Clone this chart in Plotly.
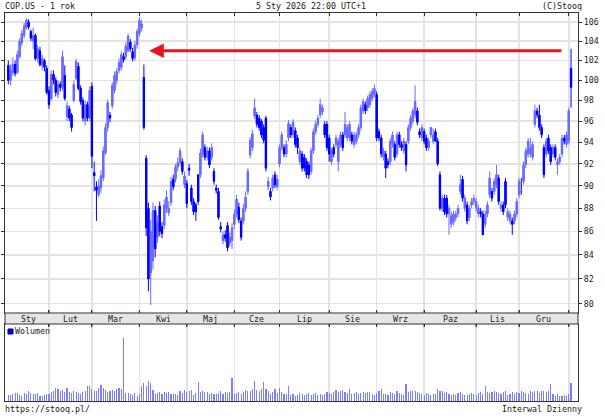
import math
import plotly.graph_objects as go

# ---------------- data (COP.US daily, 1 year) ----------------
month_labels = ["Sty", "Lut", "Mar", "Kwi", "Maj", "Cze", "Lip", "Sie", "Wrz", "Paz", "Lis", "Gru"]
month_starts = [0, 18, 37, 58, 79, 100, 120, 142, 163, 184, 207, 226, 248]

open_ = [
    101.5, 100.0, 100.8, 101.6, 100.8, 102.4, 103.8, 104.6, 105.4, 106.0,
    105.0, 104.0, 104.6, 102.2, 103.0, 101.5, 102.0, 101.2,
    99.0, 98.2, 100.6, 100.0, 98.6, 99.6, 99.3, 100.5, 96.4, 97.2,
    96.6, 98.0, 100.2, 101.4, 99.2, 98.0, 96.0, 97.6, 96.3,
    99.4, 91.2, 89.9, 89.2, 89.8, 90.7, 93.0, 95.4, 96.6, 97.5,
    99.0, 100.0, 101.0, 101.3, 102.4, 102.4, 103.0, 103.9, 102.9, 102.3, 103.6,
    104.8, 105.4, 100.3, 92.5, 88.0, 82.5, 83.5, 87.8, 85.5, 88.2,
    86.4, 86.5, 88.0, 87.6, 88.5, 90.6, 90.6, 91.7, 92.1, 92.2, 90.1,
    90.2, 91.6, 89.8, 88.6, 88.3, 91.0, 91.0, 92.9, 93.5, 92.6,
    93.2, 92.6, 91.3, 89.8, 89.5, 86.4, 85.2, 85.7, 86.5, 85.0, 85.2,
    86.6, 87.5, 88.1, 86.9, 86.9, 88.0, 89.5, 92.8, 93.5, 96.5,
    96.6, 96.3, 96.0, 95.4, 96.3, 89.9, 89.5, 89.8, 91.0, 89.9,
    92.0, 93.5, 93.5, 92.9, 94.4, 95.4, 94.7, 95.1, 94.4, 92.2,
    92.9, 92.6, 92.2, 91.9, 91.3, 93.2, 95.0, 95.7, 96.6, 96.9, 95.7, 95.7,
    94.4, 92.2, 93.5, 93.8, 92.2, 93.8, 94.7, 94.7, 94.4, 94.4,
    94.7, 93.8, 94.1, 94.7, 95.4, 97.0, 97.6, 97.3, 97.6, 98.2, 98.6,
    98.6, 95.0, 94.4, 92.6, 92.9, 92.2, 92.2, 93.8, 93.8, 92.9,
    94.7, 93.8, 93.2, 93.8, 94.1, 95.4, 96.0, 96.6, 97.0, 95.0, 94.4,
    95.0, 94.4, 93.5, 94.7, 94.1, 95.0, 94.1, 91.0, 88.0, 88.9,
    88.9, 87.5, 86.6, 86.8, 87.2, 87.5, 89.5, 90.6, 88.0, 88.3,
    87.2, 88.3, 88.6,
    88.0, 87.5, 87.7, 87.5, 86.6, 87.5, 89.2, 89.5, 89.5, 90.1,
    90.7, 88.0, 88.3, 90.4, 87.2, 86.9, 86.9, 86.9, 87.5,
    89.2, 89.5, 90.4, 91.9, 92.9, 92.9, 92.6, 95.7, 97.0, 96.6,
    95.4, 93.5, 92.9, 94.4, 93.5, 92.9, 93.5, 91.9, 92.2, 92.9,
    94.4, 93.8,
    94.1, 101.2,
]
high = [
    102.0, 101.6, 102.3, 102.0, 103.0, 104.3, 105.2, 105.9, 106.4, 106.3,
    105.2, 105.4, 104.8, 103.6, 103.4, 102.6, 102.2, 101.5,
    99.4, 101.0, 101.0, 100.3, 100.0, 99.9, 103.0, 101.5, 97.9, 97.5,
    96.8, 100.0, 102.2, 101.8, 99.5, 98.3, 98.0, 97.9, 99.4,
    99.8, 92.2, 90.4, 90.6, 91.4, 93.6, 95.8, 98.1, 96.9, 99.8,
    100.9, 101.2, 102.2, 102.9, 102.8, 103.9, 104.8, 104.2, 103.3, 104.0, 105.3,
    106.5, 106.2, 101.6, 92.8, 88.5, 87.0, 88.5, 88.2, 87.4, 88.6,
    86.8, 88.8, 89.6, 88.6, 90.8, 91.0, 92.0, 92.6, 93.5, 92.5, 91.3,
    90.5, 92.0, 90.1, 88.9, 88.5, 91.0, 93.4, 95.0, 93.8, 93.6,
    93.5, 93.9, 91.6, 90.1, 89.8, 86.8, 86.0, 86.1, 86.8, 85.9, 86.7,
    87.9, 89.2, 88.5, 87.2, 88.4, 89.5, 91.6, 94.5, 95.2, 98.2,
    96.9, 96.6, 96.2, 95.7, 96.5, 90.8, 89.8, 91.0, 91.3, 91.0,
    93.8, 95.0, 93.8, 94.2, 96.1, 95.7, 96.2, 95.4, 94.7, 93.5,
    93.2, 92.9, 92.5, 92.2, 93.5, 95.3, 96.0, 96.6, 98.2, 97.6, 96.0, 96.0,
    94.7, 93.5, 93.8, 94.7, 94.4, 95.0, 95.0, 96.9, 95.7, 96.0,
    95.0, 95.0, 95.0, 95.7, 97.6, 98.2, 97.9, 98.5, 98.9, 99.2, 99.6,
    98.9, 95.3, 94.7, 93.5, 93.2, 92.5, 94.4, 95.0, 94.1, 95.0,
    95.0, 94.1, 94.4, 94.1, 95.7, 96.6, 97.3, 99.5, 97.3, 95.3, 95.7,
    95.3, 94.7, 94.4, 95.4, 95.3, 95.3, 94.4, 91.3, 89.2, 89.2,
    89.2, 88.3, 87.7, 87.8, 87.8, 88.3, 91.0, 90.9, 89.2, 88.6,
    88.3, 88.9, 89.2,
    88.9, 88.3, 88.0, 87.8, 87.8, 88.6, 91.3, 89.8, 90.7, 91.9,
    91.0, 88.6, 88.6, 90.7, 88.0, 87.8, 87.2, 87.8, 88.9,
    90.7, 90.7, 92.2, 93.5, 94.4, 94.4, 94.1, 97.6, 97.3, 97.6,
    95.7, 93.8, 94.4, 94.7, 93.8, 93.8, 93.8, 92.5, 92.9, 94.7,
    94.7, 95.0,
    97.3, 103.2,
]
low = [
    99.6, 99.5, 100.5, 100.4, 100.6, 102.2, 103.5, 104.3, 105.2, 105.2,
    104.0, 103.2, 102.0, 101.8, 101.4, 101.0, 100.9, 98.6,
    97.2, 98.0, 99.6, 98.4, 98.2, 98.9, 99.0, 98.0, 96.0, 96.0,
    95.0, 97.8, 100.0, 99.0, 97.6, 96.0, 95.6, 96.0, 96.0,
    91.6, 89.5, 86.9, 89.0, 89.4, 90.4, 92.8, 95.0, 95.9, 97.2,
    98.7, 99.6, 100.7, 101.0, 101.8, 102.1, 102.8, 102.9, 101.9, 102.0, 103.2,
    104.5, 105.0, 95.2, 85.6, 81.0, 79.9, 82.8, 83.8, 85.0, 85.6,
    85.4, 86.2, 87.6, 87.3, 88.2, 89.6, 90.3, 91.3, 91.8, 91.0, 89.8,
    88.0, 90.9, 88.3, 87.4, 86.9, 88.3, 90.7, 92.6, 92.3, 92.3,
    91.6, 92.3, 90.1, 89.3, 87.0, 85.9, 84.9, 85.1, 84.3, 84.7, 84.5,
    86.2, 87.2, 86.7, 85.2, 86.6, 87.7, 89.2, 92.5, 93.2, 96.2,
    95.4, 95.1, 94.4, 93.9, 91.3, 89.6, 88.7, 89.5, 89.8, 89.6,
    91.7, 93.2, 92.6, 92.6, 94.1, 94.4, 94.4, 93.5, 92.9, 91.9,
    91.3, 91.3, 90.7, 90.6, 91.0, 92.9, 94.7, 95.4, 96.3, 96.6, 94.4, 93.2,
    92.2, 91.9, 92.6, 93.5, 91.3, 93.5, 93.2, 94.4, 94.1, 94.1,
    93.8, 93.5, 93.8, 94.4, 95.1, 96.7, 96.7, 97.0, 97.3, 97.9, 98.3,
    94.1, 94.1, 92.6, 92.3, 90.7, 91.6, 91.9, 93.5, 92.3, 92.6,
    93.5, 93.2, 92.9, 91.3, 93.8, 95.1, 95.7, 96.3, 95.6, 94.4, 94.1,
    93.8, 93.2, 93.2, 94.4, 93.8, 94.4, 91.8, 87.8, 87.7, 87.4,
    87.2, 85.7, 86.3, 86.5, 86.9, 87.2, 89.2, 88.6, 87.7, 86.6,
    86.9, 88.0, 88.3,
    87.7, 87.2, 87.2, 85.7, 86.3, 87.2, 88.9, 88.6, 89.2, 89.8,
    88.3, 87.7, 87.4, 88.0, 86.9, 86.6, 85.7, 86.6, 87.2,
    88.9, 89.2, 90.1, 91.6, 92.6, 92.6, 92.3, 95.4, 96.3, 95.1,
    94.4, 90.7, 92.6, 92.9, 91.9, 92.6, 92.3, 91.0, 91.9, 92.6,
    93.8, 93.5,
    93.8, 97.3,
]
close = [
    100.0, 101.0, 101.6, 100.7, 102.6, 104.0, 104.8, 105.6, 106.2, 105.5,
    104.3, 104.6, 102.2, 103.2, 101.6, 102.2, 101.3, 98.8,
    97.6, 100.6, 100.0, 98.8, 99.6, 99.3, 102.4, 98.2, 97.5, 96.3,
    95.4, 99.6, 101.9, 99.2, 97.9, 96.3, 97.6, 96.3, 99.0,
    92.7, 90.9, 89.6, 90.0, 90.9, 93.2, 95.4, 97.8, 96.3, 99.5,
    100.5, 100.9, 101.8, 102.6, 102.1, 103.5, 104.5, 103.2, 102.2, 103.6, 105.0,
    106.2, 105.8, 95.4, 86.3, 82.0, 86.0, 87.8, 84.5, 86.8, 86.0,
    85.8, 88.3, 89.0, 88.0, 90.4, 89.9, 91.7, 92.1, 93.2, 91.3, 90.9,
    88.4, 91.4, 88.6, 87.7, 87.7, 88.6, 93.0, 94.7, 92.6, 93.2,
    91.9, 93.5, 90.4, 89.6, 87.2, 86.2, 85.7, 85.4, 84.6, 85.5, 86.3,
    87.5, 88.8, 87.0, 85.5, 88.0, 89.0, 91.3, 94.2, 94.8, 97.3,
    95.7, 95.4, 94.7, 94.2, 91.6, 90.4, 89.0, 90.7, 90.1, 90.6,
    93.5, 94.7, 92.9, 93.8, 95.8, 94.7, 95.9, 93.8, 93.5, 93.2,
    91.6, 91.6, 91.0, 91.0, 93.2, 95.0, 95.7, 96.3, 97.6, 97.3, 94.7, 93.5,
    92.9, 93.2, 92.9, 94.4, 94.1, 94.7, 93.5, 95.7, 95.4, 95.7,
    94.1, 94.7, 94.7, 95.4, 97.3, 97.9, 97.0, 98.2, 98.6, 98.9, 99.2,
    94.4, 94.4, 92.9, 93.2, 91.6, 91.9, 94.1, 94.7, 92.6, 94.7,
    93.8, 93.5, 94.1, 91.9, 95.4, 96.3, 97.0, 97.9, 95.9, 94.7, 95.4,
    94.1, 93.5, 94.1, 95.4, 94.7, 94.1, 92.0, 88.0, 88.9, 87.7,
    87.5, 88.0, 87.4, 87.5, 87.5, 88.0, 90.1, 88.9, 88.9, 86.9,
    88.0, 88.6, 88.9,
    88.6, 88.0, 87.5, 85.7, 87.5, 88.3, 90.7, 88.9, 90.4, 91.0,
    88.6, 88.3, 87.7, 88.3, 87.7, 87.5, 86.6, 87.5, 88.6,
    90.4, 89.5, 91.9, 93.2, 94.1, 93.5, 93.8, 97.0, 96.6, 95.4,
    94.7, 91.0, 94.1, 93.2, 92.2, 93.5, 92.6, 92.2, 92.6, 94.4,
    94.1, 94.7,
    97.0, 99.3,
]
volume_m = [
    6.3, 6.3, 7.0, 8.3, 8.7, 6.3, 5.7, 8.3, 7.3, 10.7,
    8.3, 7.0, 7.7, 8.3, 5.0, 5.7, 6.0, 7.7, 7.0, 9.0,
    10.7, 14.0, 12.3, 10.7, 11.7, 9.7, 14.0, 9.7, 8.3, 10.7,
    9.7, 8.3, 7.3, 9.0, 10.7, 15.7, 16.3, 12.3, 11.0, 10.3,
    14.0, 17.3, 14.0, 11.7, 9.7, 10.7, 11.7, 10.7, 13.0, 14.0,
    13.0, 66.3, 8.3, 8.3, 7.3, 6.3, 8.3, 5.0, 7.0, 16.3,
    19.0, 15.7, 20.7, 19.0, 11.7, 7.3, 8.3, 9.0, 7.3, 9.7,
    8.3, 9.0, 7.0, 7.7, 7.7, 6.3, 10.7, 8.3, 11.7, 9.7,
    10.7, 11.3, 6.3, 8.3, 19.7, 9.0, 10.7, 9.0, 9.7, 7.7,
    8.3, 7.3, 7.0, 8.3, 10.7, 7.7, 9.7, 8.3, 9.7, 24.0,
    7.0, 8.3, 9.7, 7.0, 9.0, 11.7, 10.7, 11.0, 12.3, 20.7,
    11.7, 10.7, 12.3, 20.0, 13.0, 10.3, 7.3, 9.0, 12.3, 8.3,
    14.0, 9.7, 7.0, 7.3, 16.3, 6.0, 7.3, 5.7, 6.3, 8.3,
    7.0, 6.0, 7.3, 8.3, 6.3, 7.0, 8.7, 6.0, 7.3, 6.3,
    7.7, 9.0, 8.3, 7.0, 9.0, 11.7, 9.7, 10.7, 11.7, 9.0,
    8.0, 12.3, 7.7, 8.3, 9.0, 7.7, 8.3, 9.0, 8.0, 9.3,
    9.0, 7.0, 6.0, 8.3, 11.0, 12.3, 7.0, 7.3, 6.3, 9.0,
    8.3, 7.3, 11.0, 8.7, 7.0, 6.3, 18.3, 9.0, 10.0, 10.0,
    11.0, 9.0, 8.3, 7.3, 6.7, 8.7, 7.3, 6.0, 7.0, 7.7,
    13.0, 10.0, 10.0, 8.7, 9.7, 7.0, 6.7, 7.3, 6.0, 8.3,
    9.0, 7.7, 6.7, 6.3, 7.0, 8.3, 7.7, 6.3, 8.7, 9.0,
    7.3, 16.3, 9.7, 8.0, 9.0, 10.3, 9.0, 8.3, 7.7, 9.3,
    10.3, 6.3, 7.0, 9.0, 7.3, 9.3, 8.0, 11.0, 9.7, 8.0,
    7.7, 10.7, 9.0, 11.0, 10.0, 8.3, 10.3, 10.7, 9.7, 11.0,
    18.0, 7.0, 5.3, 7.3, 5.7, 5.0, 6.7, 5.3, 7.3, 19.0,
]
price_ticks = [80, 82, 84, 86, 88, 90, 92, 94, 96, 98, 100, 102, 104, 106]
arrow_level = 103.0

n = len(close)
idx = list(range(n))

# ---------------- styling ----------------
FONT = "DejaVu Sans Mono"
FS = 8.3
TXT = "#1a1a1a"
GRID = "#e3e3e3"
FRAME = "#333333"
LIGHT = "#6a6aff"
DARK = "#0000ff"
VOLC = "#7c7cff"

W, H = 605, 418
ML, MR, MT, MB = 5, 27, 13, 17
PH = H - MT - MB


def py(Y):
    """pixel row from top -> paper y"""
    return (H - MB - Y) / PH


def px(X):
    return (X - ML) / (W - ML - MR)


main_dom = [py(313), 1.0]
vol_dom = [0.0, py(324)]

fig = go.Figure()
# wicks (and thin bodies)
fig.add_trace(go.Candlestick(
    x=idx, open=open_, high=high, low=low, close=close,
    increasing=dict(line=dict(color=LIGHT, width=1), fillcolor=LIGHT),
    decreasing=dict(line=dict(color=DARK, width=1), fillcolor=DARK),
    whiskerwidth=0, xaxis="x", yaxis="y", showlegend=False, hoverinfo="skip",
))
# thicker candle bodies as short vertical line segments (open -> close)
ux, uy, dx, dy = [], [], [], []
for i, (o, c) in enumerate(zip(open_, close)):
    lo_b, hi_b = min(o, c), max(o, c)
    if hi_b - lo_b < 0.15:
        lo_b, hi_b = lo_b - 0.07, hi_b + 0.07
    if c >= o:
        ux += [i, i, None]; uy += [lo_b, hi_b, None]
    else:
        dx += [i, i, None]; dy += [lo_b, hi_b, None]
fig.add_trace(go.Scatter(x=ux, y=uy, mode="lines", line=dict(color=LIGHT, width=2.4),
                         xaxis="x", yaxis="y", showlegend=False, hoverinfo="skip"))
fig.add_trace(go.Scatter(x=dx, y=dy, mode="lines", line=dict(color=DARK, width=2.3),
                         xaxis="x", yaxis="y", showlegend=False, hoverinfo="skip"))
fig.add_trace(go.Bar(
    x=idx, y=volume_m, marker=dict(color=VOLC, line=dict(width=0)),
    width=0.5, xaxis="x2", yaxis="y2", showlegend=False, hoverinfo="skip",
))

xr = [-1.46, 252.08]
common_x = dict(
    range=xr, tickvals=month_starts[1:], showticklabels=False,
    ticks="inside", ticklen=3, tickcolor=FRAME, tickwidth=1,
    showgrid=True, gridcolor=GRID, gridwidth=1.5, zeroline=False,
    showline=True, linecolor=FRAME, linewidth=1, automargin=False,
)
ylo, yhi = math.log10(79.26), math.log10(106.96)

fig.update_layout(
    width=W, height=H, margin=dict(l=ML, r=MR, t=MT, b=MB, pad=0, autoexpand=False),
    paper_bgcolor="white", plot_bgcolor="white",
    font=dict(family=FONT, size=FS, color=TXT),
    bargap=0, showlegend=False,
    xaxis=dict(common_x, domain=[0, 1], anchor="y", side="top", mirror="ticks",
               rangeslider=dict(visible=False)),
    xaxis2=dict(common_x, domain=[0, 1], anchor="y2", side="top", mirror=True,
                matches="x"),
    yaxis=dict(domain=main_dom, type="log", range=[ylo, yhi], side="right",
               tickvals=price_ticks, ticktext=[str(t) for t in price_ticks],
               ticks="outside", ticklen=3, tickcolor=FRAME, mirror="ticks",
               showline=True, linecolor=FRAME, linewidth=1,
               showgrid=True, gridcolor=GRID, gridwidth=1.5, zeroline=False,
               tickfont=dict(family=FONT, size=FS, color=TXT), anchor="x",
               automargin=False),
    yaxis2=dict(domain=vol_dom, range=[0, 81], showticklabels=False,
                showgrid=False, zeroline=False, showline=True, mirror=True,
                linecolor=FRAME, linewidth=1, ticks="", anchor="x2",
                automargin=False),
)

# month band between the panels
fig.add_shape(type="rect", xref="paper", yref="paper", x0=0, x1=1,
              y0=vol_dom[1], y1=main_dom[0], fillcolor="#e6e6e6",
              line=dict(color=FRAME, width=1), layer="above")
band_mid = (vol_dom[1] + main_dom[0]) / 2
bounds = month_starts
for k, lab in enumerate(month_labels):
    c = (bounds[k] + bounds[k + 1]) / 2
    fig.add_annotation(x=c, xref="x", y=band_mid, yref="paper", text=lab,
                       showarrow=False, xanchor="center", yanchor="middle",
                       font=dict(family=FONT, size=FS, color=TXT))
# tick marks on the band
for s in month_starts[1:]:
    fig.add_shape(type="line", xref="x", yref="paper", x0=s, x1=s,
                  y0=main_dom[0], y1=main_dom[0] + 3 / PH,
                  line=dict(color=FRAME, width=1))
    fig.add_shape(type="line", xref="x", yref="paper", x0=s, x1=s,
                  y0=vol_dom[1], y1=vol_dom[1] - 3 / PH,
                  line=dict(color=FRAME, width=1))

# red arrow
la = math.log10(arrow_level)
fig.add_annotation(x=62.3, y=la, xref="x", yref="y", ax=245.4, ay=la,
                   axref="x", ayref="y", text="", showarrow=True,
                   arrowhead=2, arrowsize=1.05, arrowwidth=2.8,
                   arrowcolor="#e8161b", standoff=0, startstandoff=0)

# header / footer texts
def txt(t, X, Y, anchor):
    fig.add_annotation(x=px(X), y=py(Y), xref="paper", yref="paper", text=t,
                       showarrow=False, xanchor=anchor, yanchor="middle",
                       font=dict(family=FONT, size=FS, color=TXT))

txt("COP.US - 1 rok", 3, 6, "left")
txt("5 Sty 2026 22:00 UTC+1", 311, 6, "center")
txt("(C)Stooq", 584, 6, "right")
txt("https://stooq.pl/", 3, 409, "left")
txt("Interwal Dzienny", 584, 409, "right")
txt("Wolumen", 13, 331, "left")
fig.add_shape(type="rect", xref="paper", yref="paper", x0=px(8), x1=px(13),
              y0=py(334), y1=py(329), fillcolor=DARK,
              line=dict(color="#000066", width=1))

fig.write_html(
    "out.html",
    config={"displayModeBar": False, "staticPlot": True},
    post_script="document.body.style.margin='0';document.body.style.padding='0';"
                "document.body.style.overflow='hidden';",
)
